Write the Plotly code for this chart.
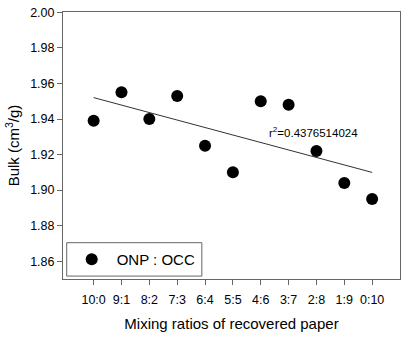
import numpy as np
import plotly.graph_objects as go

categories = ["10:0", "9:1", "8:2", "7:3", "6:4", "5:5", "4:6", "3:7", "2:8", "1:9", "0:10"]
bulk = [1.939, 1.955, 1.940, 1.953, 1.925, 1.910, 1.950, 1.948, 1.922, 1.904, 1.895]
y_ticks = [1.86, 1.88, 1.90, 1.92, 1.94, 1.96, 1.98, 2.00]
y_ticktext = ["1.86", "1.88", "1.90", "1.92", "1.94", "1.96", "1.98", "2.00"]
r2_label = "r<sup>2</sup>=0.4376514024"

x = np.arange(len(categories))
slope, intercept = np.polyfit(x, bulk, 1)
fit = slope * x + intercept

font = "Liberation Sans, Arial, sans-serif"
axcol = "#666666"

fig = go.Figure()
fig.add_trace(go.Scatter(x=x, y=fit, mode="lines", line=dict(color="#333333", width=1),
                         showlegend=False, hoverinfo="skip"))
fig.add_trace(go.Scatter(x=x, y=bulk, mode="markers", name="ONP : OCC",
                         marker=dict(color="black", size=12)))

fig.add_annotation(x=7.9, y=1.9325, xref="x", yref="y", text=r2_label, showarrow=False,
                   font=dict(family=font, size=11.5, color="black"), xanchor="center", yanchor="middle")

# legend frame
fig.add_shape(type="rect", xref="paper", yref="paper", x0=0.011, x1=0.412, y0=0.011, y1=0.136,
              line=dict(color=axcol, width=1), fillcolor="white", layer="below")

fig.update_layout(
    width=420, height=338,
    margin=dict(l=63, r=20, t=6, b=59),
    paper_bgcolor="white", plot_bgcolor="white",
    font=dict(family=font, size=12, color="black"),
    showlegend=True,
    legend=dict(x=0.011, y=0.073, xanchor="left", yanchor="middle",
                borderwidth=0, bgcolor="rgba(0,0,0,0)",
                font=dict(size=15, family=font), itemwidth=40),
    xaxis=dict(range=[-1.1, 11.0], tickmode="array", tickvals=list(x), ticktext=categories,
               showgrid=False, zeroline=False, showline=True, linecolor=axcol, linewidth=1,
               mirror=True, ticks="outside", ticklen=5, tickcolor=axcol,
               tickfont=dict(size=12.5), ticklabelstandoff=4,
               title=dict(text="Mixing ratios of recovered paper", font=dict(size=15), standoff=12)),
    yaxis=dict(range=[1.85, 2.0002], tickmode="array",
               tickvals=y_ticks, ticktext=y_ticktext, ticklabeloverflow="allow",
               showgrid=False, zeroline=False, showline=True, linecolor=axcol, linewidth=1,
               mirror=True, ticks="outside", ticklen=5, tickcolor=axcol,
               tickfont=dict(size=12.5),
               title=dict(text="Bulk (cm<sup>3</sup>/g)", font=dict(size=15), standoff=6)),
)

fig.write_html("out.html")
